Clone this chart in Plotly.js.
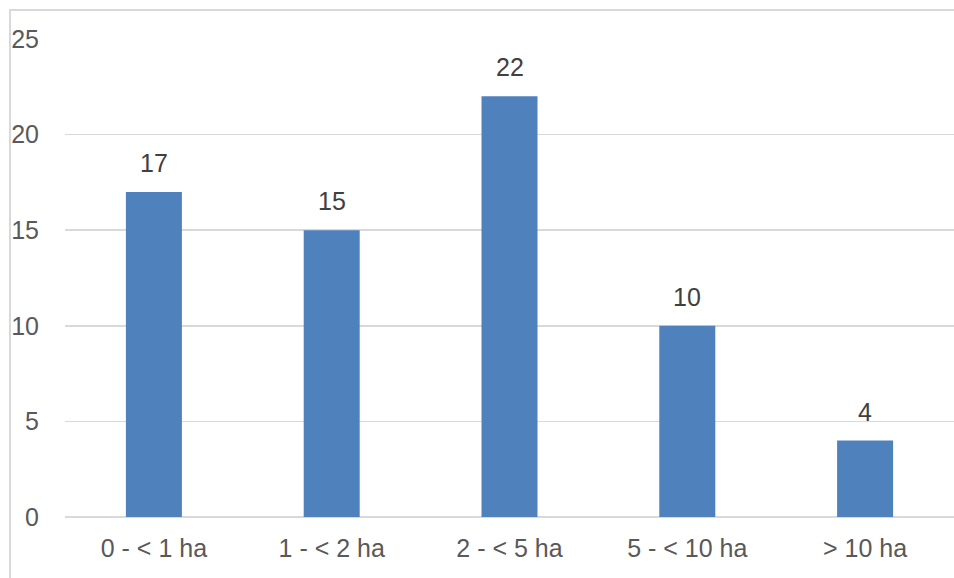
<!DOCTYPE html>
<html><head><meta charset="utf-8">
<script src="https://cdn.plot.ly/plotly-3.0.1.min.js"></script>
<style>
html,body{margin:0;padding:0;background:#fff;}
#frame{position:absolute;left:9px;top:9px;width:945px;height:569px;border-left:2px solid #d9d9d9;border-top:2px solid #d9d9d9;box-sizing:border-box;}
#chart{position:absolute;left:0;top:0;width:954px;height:578px;}
</style></head>
<body>
<div id="frame"></div>
<div id="chart"></div>
<script>
const categories = ["0 - < 1 ha", "1 - < 2 ha", "2 - < 5 ha", "5 - < 10 ha", "> 10 ha"];
const values = [17, 15, 22, 10, 4];
const yTicks = [0, 5, 10, 15, 20, 25];

const labels = categories.map((c, i) => ({
  x: c, y: values[i], xref: 'x', yref: 'y',
  text: String(values[i]), showarrow: false,
  yanchor: 'middle', yshift: 29,
  font: {family: 'Liberation Sans, Arial, sans-serif', size: 25, color: '#404040'}
}));

Plotly.newPlot('chart', [{
  type: 'bar',
  x: categories,
  y: values,
  marker: {color: '#4F81BD'},
  hoverinfo: 'none'
}], {
  width: 954, height: 578,
  margin: {l: 65, r: 0, t: 39, b: 61},
  paper_bgcolor: 'rgba(0,0,0,0)',
  plot_bgcolor: 'rgba(0,0,0,0)',
  bargap: 0.685,
  showlegend: false,
  annotations: labels,
  font: {family: 'Liberation Sans, Arial, sans-serif', color: '#595959'},
  xaxis: {
    showgrid: false, showline: false, zeroline: false,
    tickfont: {size: 25, color: '#595959'},
    ticks: '', ticklabelstandoff: 14
  },
  yaxis: {
    range: [0, 25], tickvals: yTicks, ticktext: yTicks.map(String),
    showgrid: true, gridcolor: '#d9d9d9', gridwidth: 1.5,
    zeroline: true, zerolinecolor: '#d9d9d9', zerolinewidth: 1.5,
    showline: false, ticks: '',
    tickfont: {size: 25, color: '#595959'},
    ticklabelstandoff: 25
  }
}, {staticPlot: true, displayModeBar: false});
</script>
</body></html>
